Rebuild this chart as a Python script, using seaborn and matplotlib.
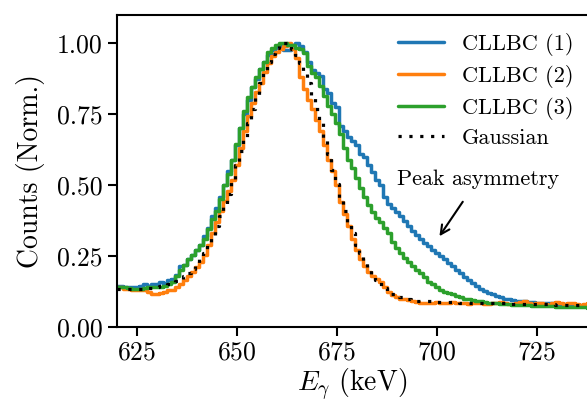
import numpy as np
import pandas as pd
import matplotlib
matplotlib.use("Agg")
import matplotlib.pyplot as plt
import seaborn as sns

# ---- data (1 keV bins starting at 620 keV) ----
bin_start = 620
bin_width = 1
series_names = ["CLLBC (1)", "CLLBC (2)", "CLLBC (3)", "Gaussian"]
cllbc1 = [0.145, 0.145, 0.14, 0.14, 0.14, 0.14, 0.145, 0.15, 0.145, 0.15,
          0.15, 0.16, 0.155, 0.165, 0.17, 0.185, 0.215, 0.22, 0.24, 0.255,
          0.27, 0.29, 0.32, 0.35, 0.39, 0.42, 0.46, 0.50, 0.55, 0.59,
          0.64, 0.70, 0.75, 0.80, 0.845, 0.875, 0.91, 0.935, 0.96, 0.975,
          0.985, 0.99, 0.975, 0.975, 0.995, 1.0, 0.99, 0.97, 0.935, 0.905,
          0.895, 0.885, 0.84, 0.825, 0.79, 0.775, 0.71, 0.69, 0.67, 0.655,
          0.64, 0.61, 0.60, 0.57, 0.545, 0.52, 0.50, 0.46, 0.435, 0.42,
          0.405, 0.39, 0.375, 0.355, 0.34, 0.325, 0.31, 0.295, 0.285, 0.27,
          0.26, 0.25, 0.24, 0.225, 0.215, 0.20, 0.19, 0.175, 0.165, 0.155,
          0.145, 0.135, 0.128, 0.12, 0.115, 0.11, 0.105, 0.10, 0.098, 0.095,
          0.092, 0.091, 0.09, 0.088, 0.087, 0.086, 0.085, 0.084, 0.083, 0.083,
          0.082, 0.081, 0.08, 0.079, 0.078, 0.077, 0.076, 0.076, 0.075]
cllbc2 = [0.14, 0.14, 0.135, 0.135, 0.13, 0.13, 0.13, 0.13, 0.125, 0.115,
          0.115, 0.12, 0.125, 0.13, 0.13, 0.14, 0.15, 0.165, 0.18, 0.195,
          0.21, 0.23, 0.255, 0.29, 0.33, 0.37, 0.41, 0.445, 0.48, 0.52,
          0.57, 0.63, 0.69, 0.745, 0.79, 0.83, 0.86, 0.90, 0.93, 0.955,
          0.97, 0.98, 0.99, 1.0, 0.98, 0.95, 0.88, 0.84, 0.80, 0.77,
          0.73, 0.69, 0.64, 0.59, 0.55, 0.50, 0.44, 0.40, 0.355, 0.31,
          0.27, 0.24, 0.215, 0.195, 0.18, 0.17, 0.16, 0.14, 0.125, 0.112,
          0.105, 0.10, 0.097, 0.094, 0.092, 0.088, 0.086, 0.084, 0.084, 0.086,
          0.088, 0.085, 0.083, 0.084, 0.087, 0.085, 0.084, 0.083, 0.082, 0.084,
          0.086, 0.083, 0.08, 0.082, 0.083, 0.086, 0.088, 0.084, 0.081, 0.082,
          0.084, 0.088, 0.09, 0.086, 0.082, 0.084, 0.086, 0.082, 0.079, 0.084,
          0.088, 0.084, 0.08, 0.083, 0.085, 0.082, 0.078, 0.082, 0.084]
cllbc3 = [0.14, 0.14, 0.14, 0.138, 0.135, 0.135, 0.135, 0.138, 0.14, 0.14,
          0.14, 0.142, 0.145, 0.15, 0.16, 0.18, 0.20, 0.22, 0.24, 0.255,
          0.27, 0.29, 0.31, 0.345, 0.38, 0.41, 0.45, 0.50, 0.54, 0.59,
          0.645, 0.70, 0.76, 0.81, 0.845, 0.88, 0.91, 0.935, 0.97, 0.985,
          0.995, 1.0, 1.0, 0.995, 0.995, 0.985, 0.98, 0.965, 0.92, 0.895,
          0.88, 0.85, 0.815, 0.78, 0.75, 0.72, 0.68, 0.63, 0.59, 0.56,
          0.525, 0.49, 0.46, 0.43, 0.405, 0.385, 0.37, 0.35, 0.33, 0.30,
          0.28, 0.26, 0.245, 0.23, 0.215, 0.20, 0.19, 0.175, 0.16, 0.15,
          0.14, 0.132, 0.125, 0.12, 0.115, 0.11, 0.105, 0.10, 0.097, 0.094,
          0.092, 0.09, 0.088, 0.086, 0.085, 0.083, 0.082, 0.081, 0.08, 0.079,
          0.078, 0.078, 0.077, 0.076, 0.075, 0.075, 0.074, 0.074, 0.073, 0.073,
          0.072, 0.072, 0.071, 0.07, 0.07, 0.07, 0.069, 0.069, 0.068]
gaussian = [0.135, 0.135, 0.135, 0.135, 0.135, 0.135, 0.135, 0.135, 0.136, 0.138,
            0.14, 0.143, 0.146, 0.15, 0.155, 0.162, 0.17, 0.18, 0.19, 0.205,
            0.22, 0.24, 0.26, 0.29, 0.32, 0.355, 0.39, 0.43, 0.47, 0.52,
            0.57, 0.62, 0.67, 0.72, 0.77, 0.815, 0.86, 0.90, 0.935, 0.962,
            0.983, 0.995, 1.0, 0.995, 0.98, 0.96, 0.93, 0.90, 0.86, 0.815,
            0.77, 0.72, 0.665, 0.61, 0.555, 0.505, 0.455, 0.41, 0.37, 0.33,
            0.29, 0.26, 0.23, 0.205, 0.185, 0.165, 0.15, 0.137, 0.125, 0.117,
            0.11, 0.105, 0.10, 0.097, 0.095, 0.093, 0.092, 0.091, 0.09, 0.09,
            0.089, 0.089, 0.088, 0.088, 0.087, 0.087, 0.086, 0.086, 0.086, 0.085,
            0.085, 0.085, 0.085, 0.084, 0.084, 0.084, 0.083, 0.083, 0.083, 0.082,
            0.082, 0.082, 0.081, 0.081, 0.081, 0.08, 0.08, 0.08, 0.08, 0.08,
            0.079, 0.079, 0.079, 0.078, 0.078, 0.078, 0.078, 0.077, 0.077]
x_ticks = [625, 650, 675, 700, 725]
y_ticks = [0.00, 0.25, 0.50, 0.75, 1.00]
annotation_text = "Peak asymmetry"

# ---- style ----
sns.set_style("ticks")
plt.rcParams.update({
    "font.family": "serif",
    "font.serif": ["cmr10", "DejaVu Serif"],
    "mathtext.fontset": "cm",
    "axes.formatter.use_mathtext": True,
    "axes.linewidth": 1.5,
    "xtick.major.width": 1.5,
    "ytick.major.width": 1.5,
    "xtick.major.size": 6.5,
    "ytick.major.size": 6.5,
    "xtick.color": "black",
    "ytick.color": "black",
    "axes.edgecolor": "black",
    "text.color": "black",
    "axes.labelcolor": "black",
})

frames = []
for name, vals in zip(series_names, [cllbc1, cllbc2, cllbc3, gaussian]):
    frames.append(pd.DataFrame({
        "E": bin_start + bin_width * np.arange(len(vals)),
        "counts": vals,
        "series": name,
    }))
df = pd.concat(frames, ignore_index=True)

fig = plt.figure(figsize=(5.87, 4.04), dpi=100)
ax = fig.add_axes([116.7 / 587, 77 / 404, (587 - 116.7) / 587, (327 - 15) / 404])

colors = ["#1f77b4", "#ff7f0e", "#2ca02c"]
for name, c in zip(series_names[:3], colors):
    sns.lineplot(data=df[df.series == name], x="E", y="counts", ax=ax, color=c,
                 lw=2.5, drawstyle="steps-mid", label=name)
sns.lineplot(data=df[df.series == series_names[3]], x="E", y="counts", ax=ax,
             color="black", lw=2.3, drawstyle="steps-mid",
             linestyle=(0, (1, 2.4)), label=series_names[3])

ax.set_xlim(620, 737.6)
ax.set_ylim(0, 1.1)
ax.set_xticks(x_ticks)
ax.set_yticks(y_ticks)
ax.set_yticklabels([f"{v:.2f}" for v in y_ticks])
ax.tick_params(labelsize=18.5)
ax.spines["right"].set_visible(False)
ax.set_xlabel(r"$E_\gamma$ (keV)", fontsize=20, labelpad=1.5)
ax.set_ylabel("Counts (Norm.)", fontsize=20, labelpad=9)

ax.annotate(annotation_text, xy=(700.7, 0.32), xytext=(710.3, 0.52),
            ha="center", va="center", fontsize=16,
            arrowprops=dict(arrowstyle="->", color="black", lw=1.5,
                            shrinkA=8, shrinkB=0))

ax.legend(loc="upper right", frameon=False, fontsize=16,
          bbox_to_anchor=(1.0, 0.985), handlelength=2.1,
          labelspacing=0.4, borderaxespad=0.2)

fig.savefig("out.png", dpi=100)
